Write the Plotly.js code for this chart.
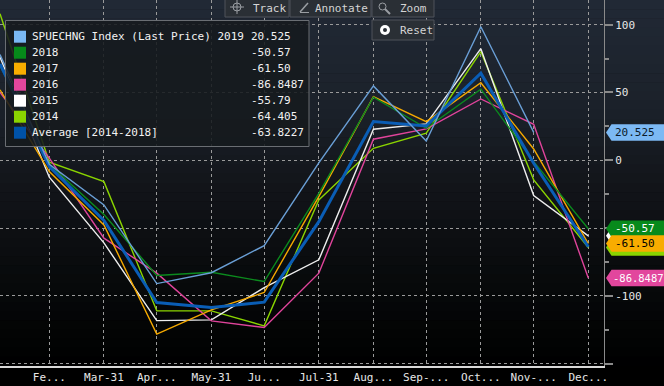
<!DOCTYPE html>
<html>
<head>
<meta charset="utf-8">
<script src="https://cdn.plot.ly/plotly-3.0.1.min.js"></script>
<style>html,body{margin:0;padding:0;background:#000;}#chart{width:664px;height:386px;}</style>
</head>
<body>
<div id="chart"></div>
<script>
// ---- data ----
const dates = ['2019-01-31','2019-02-28','2019-03-31','2019-04-30','2019-05-31','2019-06-30',
               '2019-07-31','2019-08-31','2019-09-30','2019-10-31','2019-11-30','2019-12-31'];
const s2019 = [78, -3, -33, -91, -83, -63, -2, 54.8, 14.2, 98.5, 20.525];
const s2018 = [70, -3, -40, -85, -82.6, -89.5, -24.4, 46.5, 23.6, 52.4, -1, -50.57];
const s2017 = [52, -8.4, -47.8, -128.3, -110.4, -97.6, -26.8, 46.9, 28.5, 57.2, 8.3, -61.5];
const s2016 = [50, 1.5, -57.5, -83.3, -118.5, -123.4, -83.3, 15.5, 23.1, 45.2, 26.5, -86.8487];
const s2015 = [76, -12.5, -61, -118.3, -117.8, -94, -73.5, 22.9, 26.8, 82.3, -26.1, -55.79];
const s2014 = [108, -1.5, -15.8, -111.1, -111.1, -122.2, -29.3, 8.8, 19.9, 80.1, -14.5, -64.405];
const sAvg  = [71, -4.7, -44.4, -105, -108.7, -104.7, -45.3, 28.5, 25.3, 64.2, -2.2, -63.8227];

const seriesNames = ['SPUECHNG Index (Last Price) 2019','2018','2017','2016','2015','2014','Average [2014-2018]'];
const lastLabels  = ['20.525','-50.57','-61.50','-86.8487','-55.79','-64.405','-63.8227'];
const xTickVals = dates.slice(1);
const xTickText = ['Fe...','Mar-31','Apr...','May-31','Ju...','Jul-31','Aug...','Sep-...','Oct...','Nov-...','Dec...'];
const yTickVals = [100, 50, 0, -50, -100, -150];
const yTickText = ['100', '50', '0', '', '-100', ''];

// ---- style ----
const colors = ['#6a9fd6','#0b8a1e','#f5a900','#e0449b','#eeeeee','#8ad400','#0a5db5'];
const swatch = ['#7ab8f4','#068a1a','#f8ad00','#e2469d','#ffffff','#8ad400','#0052a8'];
const tagBg  = ['#7cb9f4','#078a1b','#f8ac00','#e2469d','#ffffff','#8ad400','#0052a8'];
const tagFg  = ['#0a1a2a','#ffffff','#000000','#ffffff','#000000','#000000','#ffffff'];
const allSeries = [s2019, s2018, s2017, s2016, s2015, s2014, sAvg];
const FONT = 'DejaVu Sans Mono, Liberation Mono, monospace';
const FS = 11;

const W = 604, H = 366;
const PX = x => x / W;
const PY = y => 1 - y / H;

// traces (draw order: years, then average, then 2019)
const order = [5, 4, 3, 2, 1, 6, 0];
const traces = order.map(i => ({
  type: 'scatter', mode: 'lines',
  x: dates.slice(0, allSeries[i].length), y: allSeries[i],
  name: seriesNames[i],
  line: {color: colors[i], width: i === 6 ? 3 : 1.4},
  hoverinfo: 'skip'
}));

// background gradient bands
const stops = [[0,[33,41,53]],[0.3,[27,33,42]],[0.5,[18,21,26]],[0.75,[8,10,12]],[1,[0,0,0]]];
function grad(t){
  for (let k = 0; k < stops.length - 1; k++) {
    const [t0,c0] = stops[k], [t1,c1] = stops[k+1];
    if (t >= t0 && t <= t1) {
      const f = (t - t0) / (t1 - t0);
      return 'rgb(' + c0.map((c,j) => Math.round(c + (c1[j]-c)*f)).join(',') + ')';
    }
  }
  return 'rgb(0,0,0)';
}
const shapes = [];
const NB = 40;
for (let b = 0; b < NB; b++) {
  const y0 = H * b / NB, y1 = H * (b + 1) / NB + 0.5;
  shapes.push({type:'rect', xref:'paper', yref:'paper', layer:'below',
    x0: 0, x1: 664 / W, y0: PY(y1), y1: PY(y0),
    fillcolor: grad((b + 0.5) / NB), line:{width:0}});
}

// legend box
shapes.push({type:'rect', xref:'paper', yref:'paper', layer:'above',
  x0: PX(5.5), x1: PX(309), y0: PY(146.5), y1: PY(20.5),
  fillcolor:'rgba(22,26,30,0.88)', line:{color:'#6a6e73', width:1}});
const annotations = [];
const rowY = [36.7, 52.7, 68.7, 84.7, 100.7, 116.7, 132.7];
seriesNames.forEach((nm, i) => {
  shapes.push({type:'rect', xref:'paper', yref:'paper', layer:'above',
    x0: PX(14), x1: PX(26), y0: PY(rowY[i] + 6), y1: PY(rowY[i] - 6),
    fillcolor: swatch[i], line:{width:0}});
  annotations.push({xref:'paper', yref:'paper', x: PX(30), y: PY(rowY[i]),
    xanchor:'left', yanchor:'middle', showarrow:false, text: nm,
    font:{family: FONT, size: FS, color:'#f2f2f2'}});
  annotations.push({xref:'paper', yref:'paper', x: PX(249), y: PY(rowY[i]),
    xanchor:'left', yanchor:'middle', showarrow:false, text: lastLabels[i],
    font:{family: FONT, size: FS, color:'#f2f2f2'}});
});

// right-hand value tags: hidden ones (drawn under) as shapes only, visible ones with text
const hiddenTags = [4, 5];
const visibleTags = [1, 2, 3, 0];
const HH = 6.1; // half height in data units (~8.2 px)
function tagShape(i){
  const s = allSeries[i];
  const v = s[s.length - 1];
  shapes.push({type:'path', xref:'paper', yref:'y', layer:'above',
    path: `M ${PX(606)},${v} L ${PX(611.5)},${v + HH} L ${PX(664)},${v + HH} L ${PX(664)},${v - HH} L ${PX(611.5)},${v - HH} Z`,
    fillcolor: tagBg[i], line:{width:0}});
  return v;
}
hiddenTags.forEach(i => tagShape(i));
visibleTags.forEach(i => {
  const v = tagShape(i);
  const long = lastLabels[i].length > 7;
  annotations.push({xref:'paper', yref:'y', x: PX(long ? 611 : 612.5), y: v,
    xanchor:'left', yanchor:'middle', showarrow:false, text: lastLabels[i],
    font:{family: FONT, size: long ? 10.5 : FS, color: tagFg[i]}});
});

// toolbar buttons
const btns = [
  {x0:225, x1:289, y0:-2, y1:17, label:'Track', tx:251},
  {x0:290, x1:371, y0:-2, y1:17, label:'Annotate', tx:313},
  {x0:372, x1:434, y0:-2, y1:17, label:'Zoom', tx:398},
  {x0:372, x1:434, y0:20, y1:40, label:'Reset', tx:398}
];
btns.forEach(b => {
  shapes.push({type:'rect', xref:'paper', yref:'paper', layer:'above',
    x0: PX(b.x0), x1: PX(b.x1), y0: PY(b.y1), y1: PY(b.y0),
    fillcolor:'#2a2f35', line:{color:'#4e535a', width:1}});
  annotations.push({xref:'paper', yref:'paper', x: PX(b.tx), y: PY((b.y0 + b.y1) / 2 + 0.5),
    xanchor:'left', yanchor:'middle', showarrow:false, text: b.label,
    font:{family: FONT, size: FS, color:'#d4d4d4'}});
});
// icons
const iconCol = '#9a9ea3';
shapes.push({type:'circle', xref:'paper', yref:'paper', layer:'above',
  x0: PX(233), x1: PX(241), y0: PY(11), y1: PY(3), line:{color: iconCol, width:1}});
shapes.push({type:'line', xref:'paper', yref:'paper', layer:'above',
  x0: PX(230), x1: PX(244), y0: PY(7), y1: PY(7), line:{color: iconCol, width:1}});
shapes.push({type:'line', xref:'paper', yref:'paper', layer:'above',
  x0: PX(237), x1: PX(237), y0: PY(0), y1: PY(14), line:{color: iconCol, width:1}});
shapes.push({type:'line', xref:'paper', yref:'paper', layer:'above',
  x0: PX(300), x1: PX(308), y0: PY(12), y1: PY(3), line:{color: iconCol, width:1.5}});
shapes.push({type:'line', xref:'paper', yref:'paper', layer:'above',
  x0: PX(300), x1: PX(309), y0: PY(12.5), y1: PY(12.5), line:{color: iconCol, width:1}});
shapes.push({type:'circle', xref:'paper', yref:'paper', layer:'above',
  x0: PX(379), x1: PX(386), y0: PY(10), y1: PY(3), line:{color: iconCol, width:1}});
shapes.push({type:'line', xref:'paper', yref:'paper', layer:'above',
  x0: PX(385), x1: PX(390), y0: PY(9), y1: PY(14), line:{color: iconCol, width:2}});
shapes.push({type:'circle', xref:'paper', yref:'paper', layer:'above',
  x0: PX(380), x1: PX(390), y0: PY(35), y1: PY(25), fillcolor:'#ffffff', line:{width:0}});
shapes.push({type:'circle', xref:'paper', yref:'paper', layer:'above',
  x0: PX(383), x1: PX(387), y0: PY(32), y1: PY(28), fillcolor:'#2a2f35', line:{width:0}});

const layout = {
  width: 664, height: 386,
  margin: {l: 0, r: 60, t: 0, b: 20, pad: 0},
  paper_bgcolor: '#000000',
  plot_bgcolor: 'rgba(0,0,0,0)',
  showlegend: false,
  font: {family: FONT, size: FS, color: '#e6e6e6'},
  xaxis: {
    type: 'date',
    range: ['2019-01-31', '2020-01-08 22:00'],
    tickmode: 'array', tickvals: xTickVals, ticktext: xTickText,
    showgrid: true, gridcolor: '#9a9a9a', griddash: 'dot', gridwidth: 1,
    showline: true, linecolor: '#d8d8d8', linewidth: 1.5,
    ticks: '', zeroline: false,
    tickfont: {family: FONT, size: FS, color: '#e6e6e6'},
    fixedrange: true
  },
  yaxis: {
    side: 'right',
    range: [-151.8, 118.2],
    tickmode: 'array', tickvals: yTickVals, ticktext: yTickText,
    showgrid: true, gridcolor: '#9a9a9a', griddash: 'dot', gridwidth: 1,
    showline: true, linecolor: '#8a8a8a', linewidth: 1,
    ticks: 'outside', ticklen: 8, tickwidth: 2, tickcolor: '#8a8a8a',
    minor: {tickvals: [75, 25, -25, -75, -125], ticks: 'outside', ticklen: 4, tickcolor: '#8a8a8a', showgrid: false},
    zeroline: false,
    tickfont: {family: FONT, size: FS, color: '#e6e6e6'},
    fixedrange: true
  },
  shapes: shapes,
  annotations: annotations
};

Plotly.newPlot('chart', traces, layout, {displayModeBar: false, staticPlot: true});
</script>
</body>
</html>
